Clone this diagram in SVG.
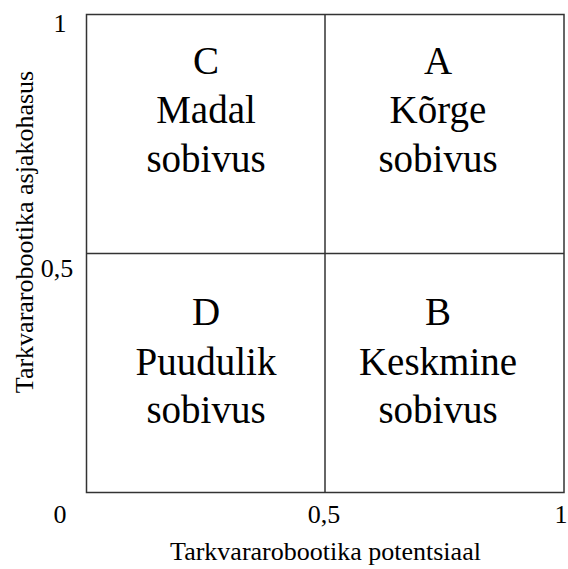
<svg xmlns="http://www.w3.org/2000/svg" width="568" height="569" viewBox="0 0 568 569">
<style>
.ln{stroke:#333;stroke-width:1.5;fill:none}
.q{font-family:"Liberation Serif","Times New Roman",serif;font-size:39px;fill:#000;text-anchor:middle}
.t{font-family:"Liberation Serif","Times New Roman",serif;font-size:26px;fill:#000;text-anchor:middle}
</style>
<rect width="568" height="569" fill="#fff"/>
<g id="grid">
<rect class="ln" x="86.5" y="14.5" width="477.5" height="478"/>
<line class="ln" x1="325" y1="14.5" x2="325" y2="492.5"/>
<line class="ln" x1="86.5" y1="253.5" x2="564" y2="253.5"/>
</g>
<g id="C"><text class="q" x="206" y="73.5">C</text><text class="q" x="206" y="123">Madal</text><text class="q" x="206" y="172">sobivus</text></g>
<g id="A"><text class="q" x="438" y="73.5">A</text><text class="q" x="438" y="123">Kõrge</text><text class="q" x="438" y="172">sobivus</text></g>
<g id="D"><text class="q" x="206" y="325">D</text><text class="q" x="206" y="375">Puudulik</text><text class="q" x="206" y="423">sobivus</text></g>
<g id="B"><text class="q" x="438" y="325">B</text><text class="q" x="438" y="375">Keskmine</text><text class="q" x="438" y="423">sobivus</text></g>
<g id="ticks">
<text class="t" x="60" y="32">1</text>
<text class="t" x="57" y="277">0,5</text>
<text class="t" x="60" y="523">0</text>
<text class="t" x="324" y="523">0,5</text>
<text class="t" x="561" y="523">1</text>
</g>
<g id="axes">
<text class="t" x="325.5" y="560">Tarkvararobootika potentsiaal</text>
<text class="t" transform="translate(33,232) rotate(-90)">Tarkvararobootika asjakohasus</text>
</g>
</svg>
